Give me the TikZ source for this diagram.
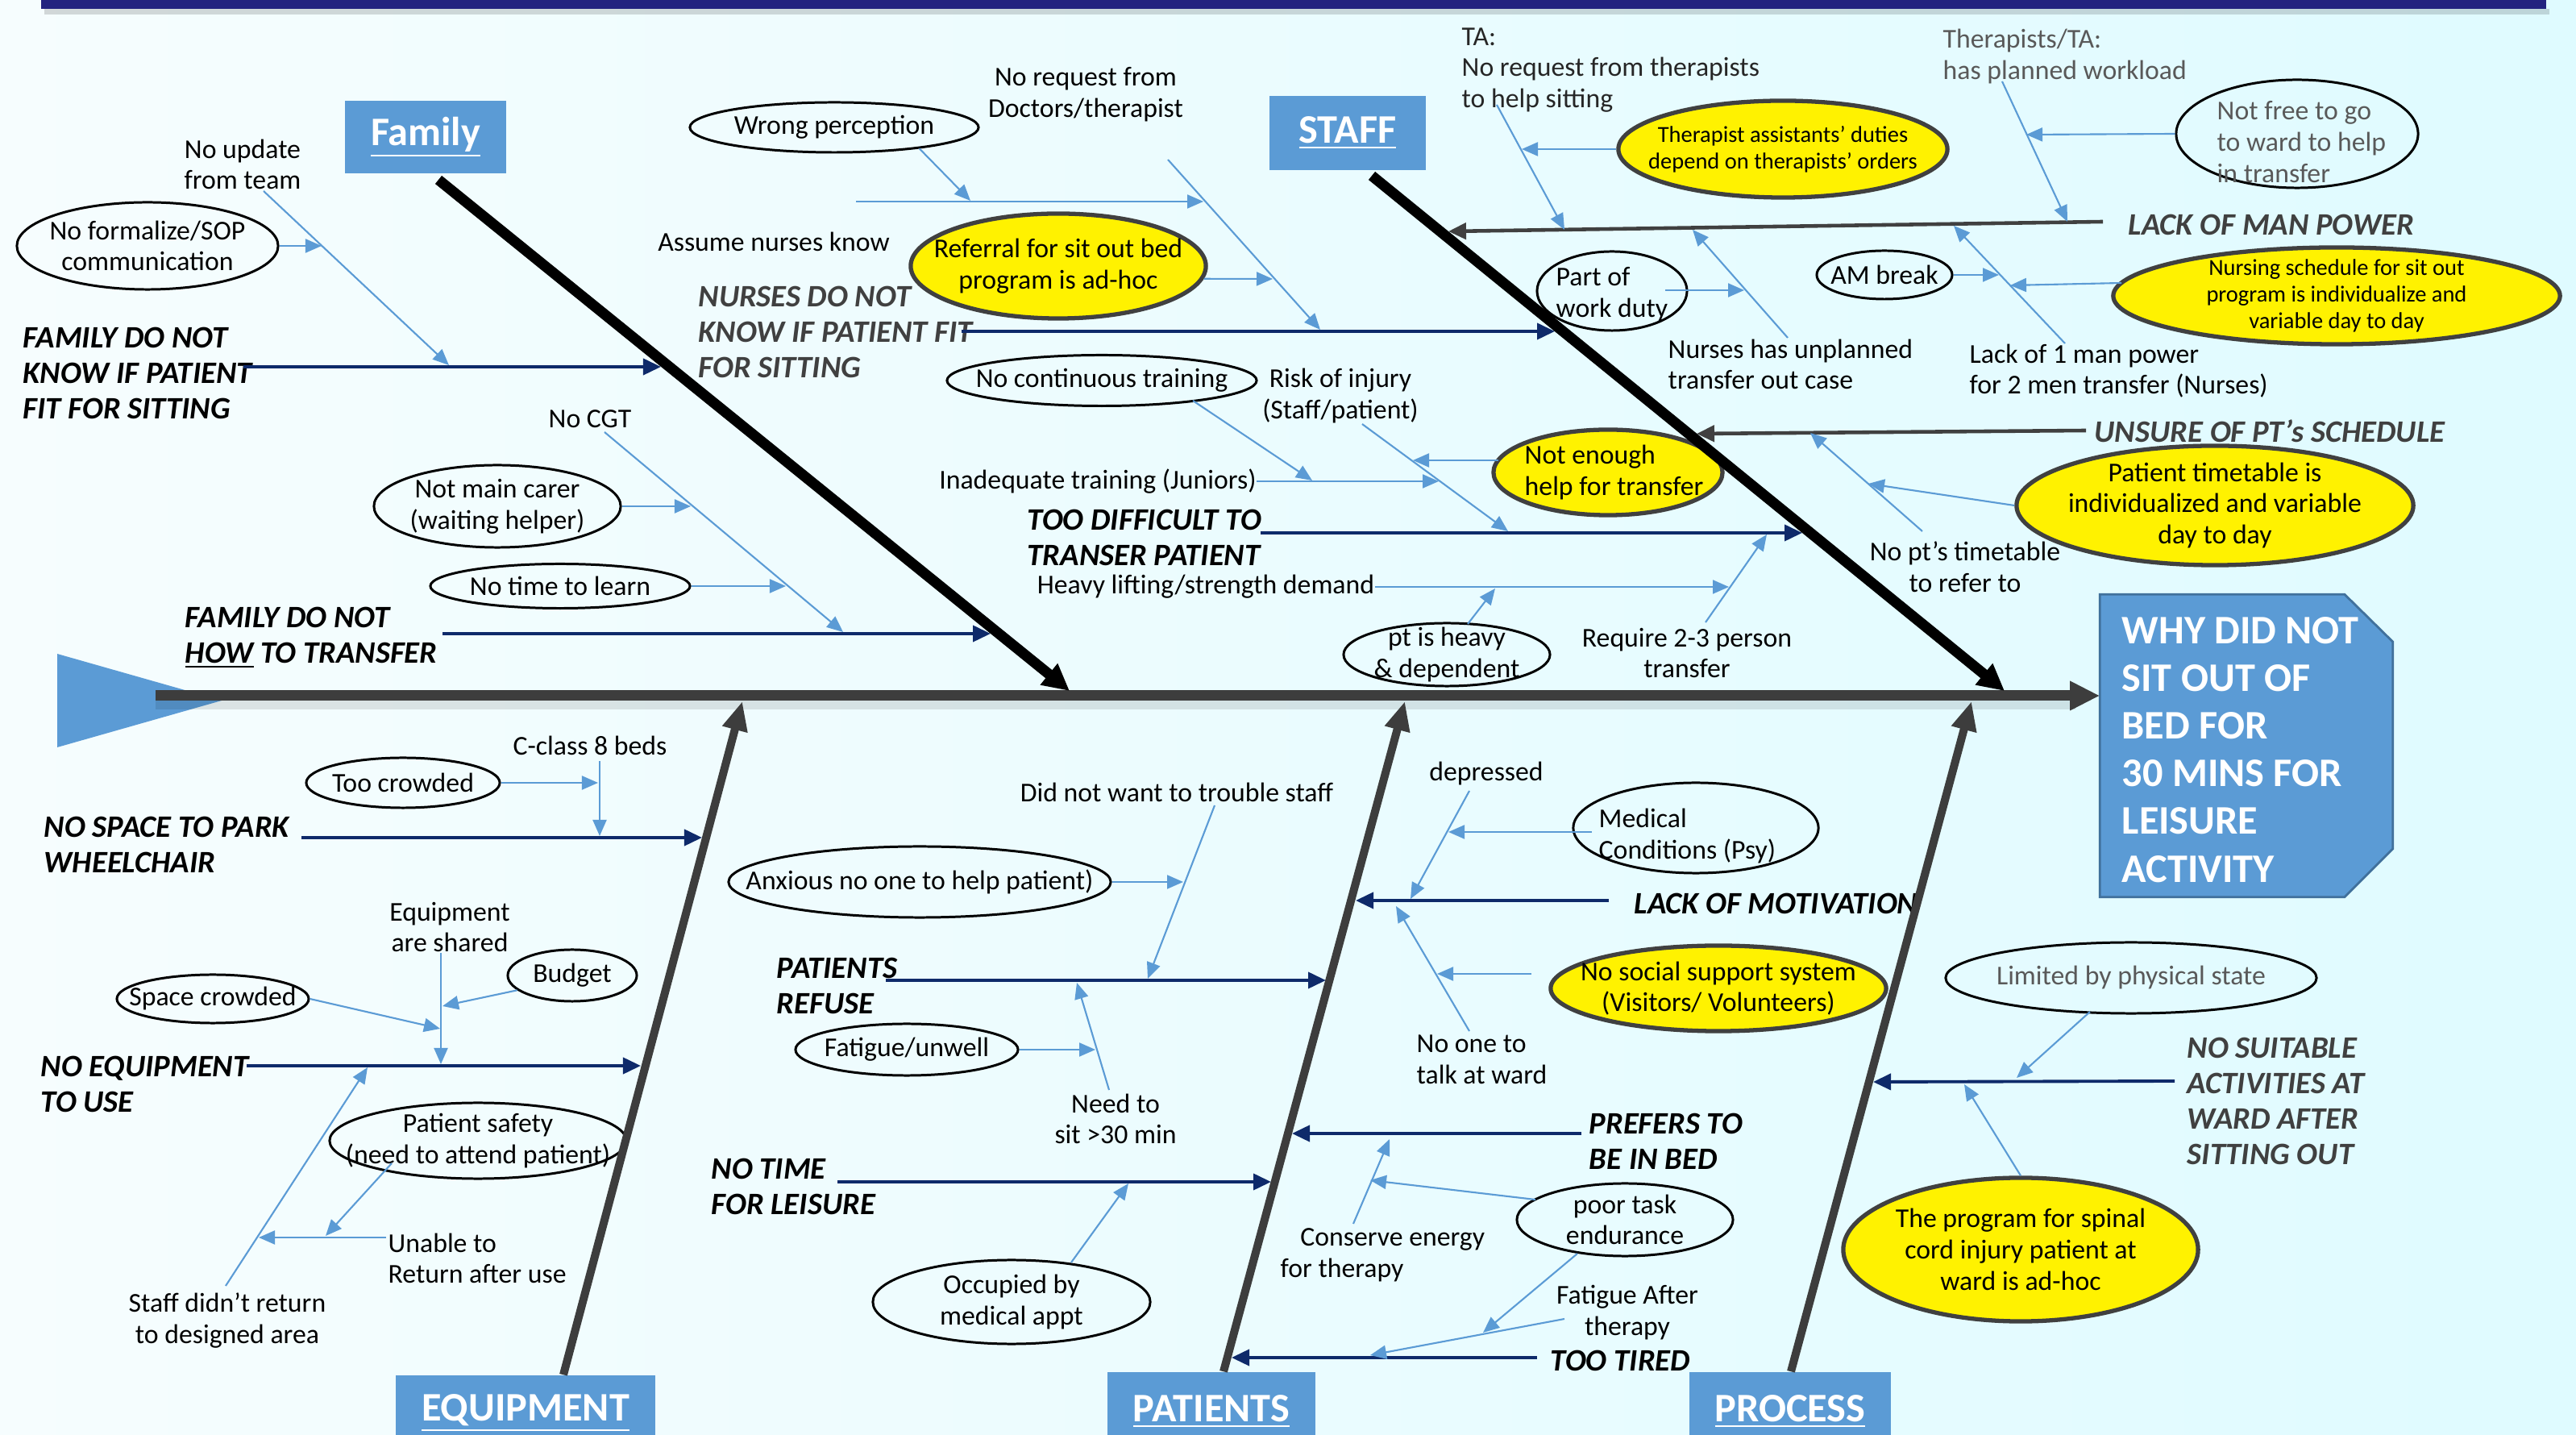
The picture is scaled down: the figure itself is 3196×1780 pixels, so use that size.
\documentclass[tikz,border=0pt]{standalone}
\usepackage{fontspec}
\setmainfont{Carlito}
\usetikzlibrary{arrows.meta,shapes.geometric}
\definecolor{boxblue}{HTML}{5B9BD5}
\definecolor{boxborder}{HTML}{41719C}
\definecolor{lblue}{HTML}{5B9BD5}
\definecolor{navy}{HTML}{0E2A6A}
\definecolor{dgray}{HTML}{404040}
\definecolor{bgray}{HTML}{3D3D3D}
\definecolor{tgray}{HTML}{595959}
\definecolor{titlebar}{HTML}{23237F}
\definecolor{bgleft}{HTML}{F6FDFE}
\definecolor{bgright}{HTML}{DFFBFF}
\tikzset{
 txt/.style={inner sep=0pt, align=center, font=\fontsize{9.6}{11}\selectfont},
 txtl/.style={inner sep=0pt, align=left, anchor=west, font=\fontsize{9.6}{11}\selectfont},
 small/.style={inner sep=0pt, align=center, font=\fontsize{8.1}{9.4}\selectfont},
 lbl/.style={inner sep=0pt, align=left, anchor=west, font=\fontsize{11}{12.5}\selectfont\bfseries\itshape},
 cat/.style={fill=boxblue, text=white, inner sep=0pt, font=\fontsize{14.3}{17}\selectfont\bfseries},
 ell/.style={ellipse, draw=black, line width=0.85pt, inner sep=0pt},
 yell/.style={ellipse, draw=dgray, fill=yellow, line width=1.5pt, inner sep=0pt},
 lb/.style={draw=lblue, line width=0.6pt, -{Triangle[length=0.2cm,width=0.17cm]}},
 nv/.style={draw=navy, line width=1.1pt, -{Triangle[length=0.22cm,width=0.2cm]}},
 gsb/.style={draw=dgray, line width=1.3pt, -{Triangle[length=0.22cm,width=0.2cm]}},
 bone/.style={draw=black, line width=0.13cm, -{Triangle[length=0.33cm,width=0.32cm]}},
 gbone/.style={draw=bgray, line width=0.1cm, -{Triangle[length=0.36cm,width=0.3cm]}},
 spine/.style={draw=bgray, line width=0.13cm, -{Triangle[length=0.37cm,width=0.34cm]}},
}
\newcommand{\ellnode}[6]{%
  \node[#1, minimum width=#4cm, minimum height=#5cm] (#2) at (#3) {};
  \node[txt] (#2t) at (#2.center) {#6};}
\newcommand{\cnx}[4]{%
  \coordinate (#2a) at (#3); \coordinate (#2b) at (#4);
  \draw[#1] (#2a) -- (#2b);}
\newcommand{\cnxn}[4]{%
  \coordinate (#3) at (#4);
  \draw[#1] (#2) -- (#3);}
\begin{document}
\begin{tikzpicture}[x=0.01cm,y=-0.01cm]
\useasboundingbox (0,0) rectangle (3196,1780);
\shade[left color=bgleft, right color=bgright] (0,0) rectangle (3196,1780);
\fill[black, opacity=0.15] (55,11) rectangle (3163,18);
\fill[titlebar] (51,0) rectangle (3159,11);
% tail
\fill[boxblue] (71,811) -- (275,869) -- (71,927) -- cycle;
% effect box
\node[minimum width=3.62cm, minimum height=3.74cm, inner sep=0pt] (effect) at (2787,925) {};
\filldraw[fill=boxblue, draw=boxborder, line width=0.8pt] (effect.north west) -- ([xshift=-0.6cm]effect.north east) -- ([yshift=-0.59cm]effect.north east) -- ([yshift=0.6cm]effect.south east) -- ([xshift=-0.6cm]effect.south east) -- (effect.south west) -- cycle;
\node[anchor=west, inner sep=0pt, align=left, text=white, font=\fontsize{14.3}{16.8}\selectfont\bfseries] (effectt) at (2632,930) {WHY DID NOT\\SIT OUT OF\\BED FOR\\30 MINS FOR\\LEISURE\\ACTIVITY};
% spine
\coordinate (tail) at (193,863);
\draw[line width=0.13cm, black, opacity=0.10] (193,874) -- (2575,874);
\draw[spine] (tail) -- (effect.west |- tail);

% category boxes
\node[cat, minimum width=2.0cm, minimum height=0.89cm] (fam) at (528,170) {\underline{Family}};
\node[cat, minimum width=1.94cm, minimum height=0.91cm] (staff) at (1672,165) {\underline{STAFF}};
\node[cat, minimum width=3.21cm, minimum height=0.94cm] (equip) at (652,1753) {\underline{EQUIPMENT}};
\node[cat, minimum width=2.57cm, minimum height=0.98cm] (pat) at (1503,1751) {\underline{PATIENTS}};
\node[cat, minimum width=2.49cm, minimum height=0.98cm] (proc) at (2221,1751) {\underline{PROCESS}};

% ===== FAMILY 1
\node[lbl] (lf1) at (28,463) {FAMILY DO NOT\\KNOW IF PATIENT\\FIT FOR SITTING};
\cnx{nv}{f1}{302,455}{820,455}
\node[txt] (tnoupd) at (301,204) {No update\\from team};
\cnx{lb}{nu}{327,237}{557,453}
\ellnode{ell}{esop}{183,305}{3.24}{1.08}{No formalize/SOP\\communication}
\cnxn{lb}{esop.east}{sopb}{399,305}
% ===== FAMILY 2
\node[lbl] (lf2) at (229,791) {FAMILY DO NOT\\\underline{HOW} TO TRANSFER};
\cnx{nv}{f2}{549,786}{1229,786}
\node[txt] (tcgt) at (732,520) {No CGT};
\cnx{lb}{cgt}{750,536}{1046,784}
\ellnode{ell}{ecarer}{617,628}{3.06}{1.02}{Not main carer\\(waiting helper)}
\cnxn{lb}{ecarer.east}{carerb}{857,628}
\ellnode{ell}{etime}{695,727}{3.22}{0.55}{No time to learn}
\cnxn{lb}{etime.east}{timeb}{975,727}

% ===== NURSES
\node[lbl, text=dgray] (lnur) at (866,412) {NURSES DO NOT\\KNOW IF PATIENT FIT\\FOR SITTING};
\cnx{nv}{nur}{1193,411}{1929,411}
\node[txt] (tnoreq) at (1347,117) {No request from\\Doctors/therapist};
\cnx{lb}{nrq}{1449,198}{1638,409}
\node[txt] (tassume) at (960,300) {Assume nurses know};
\cnx{lb}{asm}{1062,250}{1493,250}
\ellnode{ell}{ewrong}{1035,158}{3.58}{0.62}{Wrong perception}
\cnxn{lb}{ewrong.-14}{wrongb}{1204,249}
\ellnode{yell}{eref}{1313,330}{3.66}{1.30}{Referral for sit out bed\\program is ad-hoc}
\cnxn{lb}{eref.-5}{refb}{1579,346}

% ===== TOO DIFFICULT
\node[lbl] (ltd) at (1274,667) {TOO DIFFICULT TO\\TRANSER PATIENT};
\cnx{nv}{td}{1564,661}{2236,661}
\node[txt] (trisk) at (1663,491) {Risk of injury\\(Staff/patient)};
\cnx{lb}{risk}{1690,526}{1871,659}
\node[txt] (tinad) at (1362,597) {Inadequate training (Juniors)};
\cnxn{lb}{tinad.east}{inadb}{1785,597}
\ellnode{ell}{econt}{1367,472}{3.84}{0.63}{No continuous training}
\cnx{lb}{cont}{1480,497}{1628,596}
\node[yell, minimum width=2.84cm, minimum height=1.06cm] (eenough) at (1995,586) {};
\node[txtl] (eenought) at (1891,586) {Not enough\\help for transfer};
\cnx{lb}{enough}{1859,571}{1753,571}
\node[txt] (theavy) at (1496,728) {Heavy lifting/strength demand};
\cnxn{lb}{theavy.east}{heavyb}{2145,728}
\node[txt] (treq) at (2093,810) {Require 2-3 person\\transfer};
\cnx{lb}{req}{2116,772}{2192,663}
\ellnode{ell}{eheavy}{1795,812}{2.56}{0.78}{pt is heavy\\\& dependent}
\cnx{lb}{hv}{1821,774}{1855,730}

% ===== LACK OF MAN POWER
\cnx{gsb}{lmp}{2609,275}{1797,287}
\node[lbl, text=dgray] (llmp) at (2640,279) {LACK OF MAN POWER};
\node[txtl, text=black!85] (tta) at (1813,87) {TA:\\No request from therapists\\to help sitting};
\cnx{lb}{ta}{1857,130}{1941,285}
\node[yell, minimum width=4.08cm, minimum height=1.20cm] (eta) at (2212,185) {};
\node[small] (etat) at (eta.center) {Therapist assistants’ duties\\depend on therapists’ orders};
\cnxn{lb}{eta.west}{etab}{1888,185}
\node[txtl, text=tgray] (tther) at (2410,70) {Therapists/TA:\\has planned workload};
\cnx{lb}{ther}{2484,101}{2565,275}
\node[ell, minimum width=3.0cm, minimum height=1.34cm] (efree) at (2850,166) {};
\node[txtl, text=tgray] (efreet) at (2750,176) {Not free to go\\to ward to help\\in transfer};
\cnxn{lb}{efree.west}{freeb}{2514,167}
\node[txtl] (tlack1) at (2443,460) {Lack of 1 man power\\for 2 men transfer (Nurses)};
\cnx{lb}{lk1}{2562,426}{2424,280}
\ellnode{ell}{eam}{2338,341}{1.68}{0.60}{AM break}
\cnxn{lb}{eam.east}{amb}{2480,341}
\node[yell, minimum width=5.54cm, minimum height=1.20cm] (ensch) at (2899,367) {};
\node[small] (enscht) at (ensch.center) {Nursing schedule for sit out\\program is individualize and\\variable day to day};
\cnx{lb}{nsch}{2632,351}{2494,354}
\node[ell, minimum width=1.86cm, minimum height=0.98cm] (epart) at (2000,361) {};
\node[txtl] (epartt) at (1930,365) {Part of\\work duty};
\cnx{lb}{part}{2066,360}{2164,360}
\node[txtl] (tunpl) at (2069,452) {Nurses has unplanned\\transfer out case};
\cnx{lb}{unpl}{2218,419}{2100,285}

% ===== UNSURE
\cnx{gsb}{uns}{2588,534}{2105,538}
\node[lbl, text=dgray] (lunsure) at (2598,535) {UNSURE OF PT’s SCHEDULE};
\node[txt] (tnopt) at (2438,703) {No pt’s timetable\\to refer to};
\cnx{lb}{nopt}{2385,659}{2246,537}
\ellnode{yell}{eptt}{2748,627}{4.92}{1.48}{Patient timetable is\\individualized and variable\\day to day}
\cnxn{lb}{eptt.west}{pttb}{2318,600}

% ===== EQUIPMENT
\node[lbl] (lnosp) at (54,1048) {NO SPACE TO PARK\\WHEELCHAIR};
\cnx{nv}{nsp}{374,1039}{871,1039}
\node[txt] (tccl) at (732,925) {C-class 8 beds};
\cnx{lb}{ccl}{744,944}{744,1037}
\ellnode{ell}{ecrowd}{500,971}{2.40}{0.62}{Too crowded}
\cnxn{lb}{ecrowd.east}{crowdb}{742,971}
\node[lbl] (lnoeq) at (50,1345) {NO EQUIPMENT\\TO USE};
\cnx{nv}{neq}{306,1322}{795,1322}
\node[txt] (tshared) at (558,1150) {Equipment\\are shared};
\cnx{lb}{shr}{547,1182}{547,1320}
\ellnode{ell}{ebudget}{710,1210}{1.60}{0.64}{Budget}
\cnxn{lb}{ebudget.195}{budb}{549,1248}
\ellnode{ell}{espace}{264,1239}{2.38}{0.60}{Space crowded}
\cnxn{lb}{espace.east}{spaceb}{546,1276}
\node[txt] (tstaffd) at (282,1638) {Staff didn’t return\\to designed area};
\cnx{lb}{sdr}{280,1595}{456,1324}
\node[txtl] (tunable) at (481,1561) {Unable to\\Return after use};
\cnx{lb}{unb}{479,1535}{321,1535}
\ellnode{ell}{esafe}{593,1415}{3.68}{0.94}{Patient safety\\(need to attend patient)}
\cnx{lb}{sfe}{486,1443}{404,1533}

% ===== PATIENTS
\node[lbl] (lref) at (963,1223) {PATIENTS\\REFUSE};
\cnx{nv}{ref}{1099,1216}{1645,1216}
\node[txt] (tdid) at (1460,983) {Did not want to trouble staff};
\cnx{lb}{did}{1507,999}{1424,1214}
\ellnode{ell}{eanx}{1141,1094}{4.74}{0.88}{Anxious no one to help patient)}
\cnxn{lb}{eanx.east}{anxb}{1468,1094}
\node[txt] (tneed) at (1384,1388) {Need to\\sit >30 min};
\cnx{lb}{need}{1376,1352}{1336,1219}
\ellnode{ell}{efat}{1125,1302}{2.76}{0.64}{Fatigue/unwell}
\cnxn{lb}{efat.east}{fatb}{1359,1302}
\node[lbl] (lnotime) at (882,1472) {NO TIME\\FOR LEISURE};
\cnx{nv}{nti}{1039,1466}{1577,1466}
\ellnode{ell}{eocc}{1255,1615}{3.44}{1.04}{Occupied by\\medical appt}
\cnx{lb}{occ}{1329,1566}{1400,1468}
\node[lbl] (lmot) at (2027,1121) {LACK OF MOTIVATION};
\cnx{nv}{mot}{1996,1117}{1682,1117}
\node[txt] (tdep) at (1844,960) {depressed};
\cnx{lb}{dep}{1823,981}{1750,1115}
\node[ell, minimum width=3.04cm, minimum height=1.12cm] (emed) at (2104,1027) {};
\node[txtl] (emedt) at (1983,1037) {Medical\\Conditions (Psy)};
\cnx{lb}{med}{1975,1032}{1797,1032}
\node[txtl] (tnoone) at (1757,1314) {No one to\\talk at ward};
\cnx{lb}{non}{1823,1279}{1732,1124}
\ellnode{yell}{esoc}{2132,1226}{4.16}{1.06}{No social support system\\(Visitors/ Volunteers)}
\cnx{lb}{soc}{1900,1208}{1783,1208}
\node[lbl] (lpref) at (1971,1416) {PREFERS TO\\BE IN BED};
\cnx{nv}{prf}{1962,1406}{1603,1406}
\node[txtl] (tcons) at (1588,1557) {\hspace*{7pt}Conserve energy\\for therapy};
\cnx{lb}{cns}{1679,1518}{1724,1413}
\ellnode{ell}{epoor}{2016,1513}{2.68}{0.90}{poor task\\endurance}
\cnx{lb}{pr1}{1905,1488}{1700,1464}
\node[lbl] (ltired) at (1923,1688) {TOO TIRED};
\cnx{nv}{trd}{1907,1684}{1528,1684}
\node[txt] (tfatafter) at (2019,1628) {Fatigue After\\therapy};
\cnx{lb}{faf}{1941,1636}{1700,1681}
\cnx{lb}{pr2}{1957,1555}{1840,1653}

% ===== PROCESS
\node[lbl, text=dgray] (lnosuit) at (2713,1366) {NO SUITABLE\\ACTIVITIES AT\\WARD AFTER\\SITTING OUT};
\cnx{nv}{nsu}{2698,1341}{2324,1342}
\node[ell, minimum width=4.60cm, minimum height=0.88cm] (elim) at (2644,1213) {};
\node[txt, text=tgray] (elimt) at (elim.center) {Limited by physical state};
\cnx{lb}{lim}{2593,1255}{2502,1337}
\ellnode{yell}{eprog}{2507,1550}{4.40}{1.78}{The program for spinal\\cord injury patient at\\ward is ad-hoc}
\cnxn{lb}{eprog.north}{progb}{2437,1345}

% ===== main bones
\coordinate (famA) at (544,223); \coordinate (famB) at (1327,857);
\draw[bone] (famA) -- (famB);
\coordinate (stA) at (1702,218); \coordinate (stB) at (2487,857);
\draw[bone] (stA) -- (stB);
\coordinate (eqB) at (921,870);
\coordinate (paB) at (1743,870);
\coordinate (prB) at (2446,870);
\draw[gbone] (equip.north -| 699,0) -- (eqB);
\draw[gbone] (pat.north -| 1518,0) -- (paB);
\draw[gbone] (proc.north -| 2222,0) -- (prB);
\end{tikzpicture}
\end{document}
